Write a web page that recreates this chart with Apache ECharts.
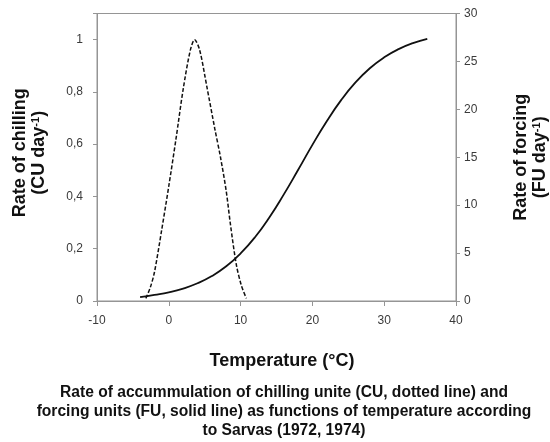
<!DOCTYPE html>
<html>
<head>
<meta charset="utf-8">
<script src="https://cdn.jsdelivr.net/npm/echarts@6/dist/echarts.min.js"></script>
<style>html,body{margin:0;padding:0;background:#fff;}#c{width:550px;height:442px;}</style>
</head>
<body>
<div id="c"></div>
<script>
// Chilling rate (CU/day, left axis) – dashed line
var chillTemp = [-3.2, -2.6, -2.0, -1.0, 0.0, 1.0, 2.0, 3.0, 3.6, 4.3, 5.3, 6.4, 7.2, 8.0, 8.6, 9.4, 10.1, 10.8];
var chillRate = [0.01, 0.05, 0.11, 0.27, 0.44, 0.62, 0.81, 0.96, 1.0, 0.96, 0.82, 0.66, 0.55, 0.42, 0.29, 0.14, 0.06, 0.01];
// Forcing rate (FU/day, right axis) – solid line
var forceTemp = [-4, -2, 0, 2, 4, 6, 8, 10, 12, 14, 16, 18, 20, 22, 24, 26, 28, 30, 32, 34, 36];
var forceRate = [0.40, 0.64, 0.91, 1.30, 1.85, 2.60, 3.62, 4.96, 6.65, 8.72, 11.10, 13.67, 16.29, 18.76, 20.96, 22.81, 24.29, 25.43, 26.28, 26.90, 27.35];
// Axis ticks
var xTicks = {min: -10, max: 40, step: 10};
var leftTicks = {min: 0, max: 1.1, step: 0.2};
var rightTicks = {min: 0, max: 30, step: 5};

var chillData = chillTemp.map(function (t, i) { return [t, chillRate[i]]; });
var forceData = forceTemp.map(function (t, i) { return [t, forceRate[i]]; });

var axisGray = '#959595';
var labelColor = '#3a3a3a';
var font = 'Liberation Sans, Arial, sans-serif';

function richName(size) {
  return {
    b: {fontFamily: font, fontSize: size, fontWeight: 'bold', color: '#111', lineHeight: 19},
    s: {fontFamily: font, fontSize: 11, fontWeight: 'bold', color: '#111', verticalAlign: 'top', lineHeight: 19, padding: [0, 0, 9, 0]}
  };
}

var chart = echarts.init(document.getElementById('c'), null, {renderer: 'canvas'});
chart.setOption({
  animation: false,
  backgroundColor: '#fff',
  title: {
    text: 'Rate of accummulation of chilling unite (CU, dotted line) and\nforcing units (FU, solid line) as functions of temperature according\nto Sarvas (1972, 1974)',
    left: 284, top: 383.5, textAlign: 'center', padding: 0,
    textStyle: {fontFamily: font, fontSize: 15.6, fontWeight: 'bold', color: '#111', lineHeight: 19}
  },
  grid: {left: 97, right: 94, top: 13.5, bottom: 141, show: true, borderColor: axisGray, borderWidth: 1, containLabel: false, outerBoundsMode: 'none'},
  xAxis: {
    type: 'value', min: xTicks.min, max: xTicks.max, interval: xTicks.step,
    name: 'Temperature (°C)', nameLocation: 'middle', nameGap: 51,
    nameTextStyle: {fontFamily: font, fontSize: 18, fontWeight: 'bold', color: '#111', padding: [0, 0, 0, 11]},
    axisLine: {show: true, onZero: false, lineStyle: {color: axisGray}},
    axisTick: {show: true, length: 5, lineStyle: {color: axisGray}},
    axisLabel: {fontFamily: font, fontSize: 12, color: labelColor, margin: 14},
    splitLine: {show: false}
  },
  yAxis: [{
    type: 'value', position: 'left', min: leftTicks.min, max: leftTicks.max, interval: leftTicks.step,
    name: '{b|Rate of chilling}\n{b|(CU day}{s|-1}{b|)}', nameLocation: 'middle', nameGap: 48, nameRotate: 90,
    nameTextStyle: {rich: richName(18), padding: [0, 0, 0, 9]},
    axisLine: {show: true, onZero: false, lineStyle: {color: axisGray}},
    axisTick: {show: true, length: 4, lineStyle: {color: axisGray}},
    axisLabel: {
      fontFamily: font, fontSize: 12, color: labelColor, margin: 14,
      formatter: function (v) {
        var r = Math.round(v / leftTicks.step) * leftTicks.step;
        if (Math.abs(v - r) > 1e-6) return '';
        return String(+v.toFixed(1)).replace('.', ',');
      }
    },
    splitLine: {show: false}
  }, {
    type: 'value', position: 'right', min: rightTicks.min, max: rightTicks.max, interval: rightTicks.step,
    name: '{b|Rate of forcing}\n{b|(FU day}{s|-1}{b|)}', nameLocation: 'middle', nameGap: 56, nameRotate: 90,
    nameTextStyle: {rich: richName(18), padding: [0, 0, 0, 0]},
    axisLine: {show: true, onZero: false, lineStyle: {color: axisGray}},
    axisTick: {show: true, length: 4, lineStyle: {color: axisGray}},
    axisLabel: {fontFamily: font, fontSize: 12, color: labelColor, margin: 8},
    splitLine: {show: false}
  }],
  series: [{
    name: 'CU', type: 'line', yAxisIndex: 0, data: chillData, smooth: 0.3, showSymbol: false,
    lineStyle: {color: '#111', width: 1.5, type: [4, 2]}
  }, {
    name: 'FU', type: 'line', yAxisIndex: 1, data: forceData, smooth: true, showSymbol: false,
    lineStyle: {color: '#111', width: 1.8, type: 'solid'}
  }]
});
</script>
</body>
</html>
